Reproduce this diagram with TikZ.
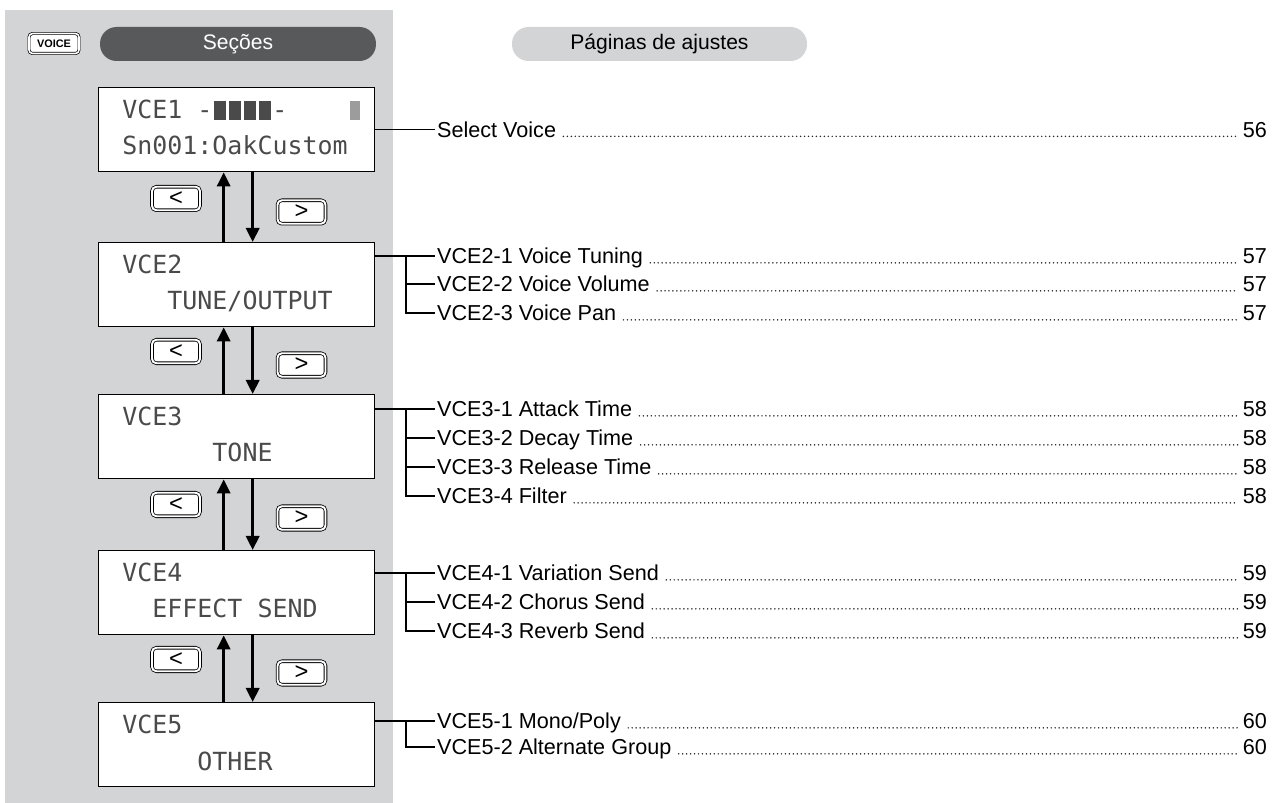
\documentclass[tikz,border=0pt]{standalone}
\usepackage{fontspec}
\setmainfont{Liberation Sans}
\newfontfamily\lcdfont{DejaVu Sans Mono}
\usetikzlibrary{arrows.meta}

\definecolor{panelgray}{HTML}{D3D4D6}
\definecolor{pilldark}{HTML}{58595B}
\definecolor{lcdink}{HTML}{4A4A4A}

% one inverted LCD cell
\newcommand\lcdblk{\makebox[0.6em]{\rule[-0.06em]{0.5em}{0.8em}}}
\newcommand\lcdcell{\makebox[0.6em]{\textcolor{lcdink!55}{\rule[-0.06em]{0.42em}{0.8em}}}}
\def\px{0.02cm}

\tikzset{
  pill/.style={rounded corners=0.33cm, minimum height=0.68cm, inner sep=0,
    font=\fontsize{12}{14}\selectfont},
  lcdbox/.style={draw, fill=white, line width=0.8pt, anchor=north west,
    minimum width=5.52cm, minimum height=1.68cm, inner sep=0},
  lcdtext/.style={anchor=base west, inner sep=0, text=lcdink,
    font=\lcdfont\fontsize{14.2}{16}\selectfont},
  navkey/.style={draw, double=white, double distance=1.1pt, line width=0.45pt,
    rounded corners=2.5pt, fill=white, minimum width=0.96cm,
    minimum height=0.47cm, inner sep=0, font=\fontsize{13.5}{13.5}\selectfont},
  navarrow/.style={line width=1.7pt, -{Triangle[length=8pt,width=7.5pt]}},
  branch/.style={line width=1.1pt},
  entry/.style={anchor=west, inner sep=1pt, text height=8.8pt, text depth=0pt,
    font=\fontsize{12.3}{14}\selectfont},
  pagenum/.style={entry, anchor=east},
  leader/.style={black!85, line width=0.95pt, dash pattern=on 0pt off 2.25pt, line cap=round}
}

\begin{document}
\begin{tikzpicture}[x=0.02cm, y=-0.02cm]
  \useasboundingbox (0,0) rectangle (1282,803);
  \fill[panelgray] (5,10) rectangle (393,803);

  % headers
  \node[draw, double=white, double distance=0.9pt, line width=0.4pt,
    rounded corners=2pt, fill=white, minimum width=1cm, minimum height=0.4cm,
    inner sep=0, font=\bfseries\fontsize{6.2}{6.5}\selectfont] (voice) at (54,43.5) {VOICE};
  \node[pill, fill=pilldark, text=white, minimum width=5.52cm] (secoes) at (238,44) {Seções};
  \node[pill, fill=panelgray, minimum width=5.9cm] (paginas) at (659.5,44) {Páginas de ajustes};

  % LCD screens
  \foreach \k/\t/\la/\lb in {
      1/87/{VCE1~-\lcdblk\lcdblk\lcdblk\lcdblk-~~~~\lcdcell}/{Sn001:OakCustom},
      2/242/VCE2/{~~~TUNE/OUTPUT},
      3/394/VCE3/{~~~~~~TONE},
      4/550/VCE4/{~~EFFECT~SEND},
      5/702/VCE5/{~~~~~OTHER}} {
    \node[lcdbox] (vce\k) at (98,\t) {};
    \node[lcdtext] (vce\k a) at (122,\t+32) {\la};
    \node[lcdtext] (vce\k b) at (122,\t+68) {\lb};
  }

  % < > keys and arrows between screens
  \foreach \k/\n/\b in {1/2/172, 2/3/325, 3/4/478, 4/5/633} {
    \node[navkey] (prev\k) at (176,\b+26.5) {<};
    \node[navkey] (next\k) at (301.5,\b+40) {>};
    \draw[navarrow] ([xshift=-13*\px]vce\n.north) -- ([xshift=-13*\px]vce\k.south);
    \draw[navarrow] ([xshift=16*\px]vce\k.south) -- ([xshift=16*\px]vce\n.north);
  }

  % setting pages
  \foreach \n/\y/\t/\p in {
      s/129.5/Select Voice/56,
      21/256/VCE2-1 Voice Tuning/57,
      22/284/VCE2-2 Voice Volume/57,
      23/313/VCE2-3 Voice Pan/57,
      31/409/VCE3-1 Attack Time/58,
      32/438/VCE3-2 Decay Time/58,
      33/467/VCE3-3 Release Time/58,
      34/496/VCE3-4 Filter/58,
      41/573/VCE4-1 Variation Send/59,
      42/602/VCE4-2 Chorus Send/59,
      43/631/VCE4-3 Reverb Send/59,
      51/721/{VCE5-1 Mono/Poly}/60,
      52/747/VCE5-2 Alternate Group/60} {
    \node[entry] (i\n) at (435,\y) {\t};
    \node[pagenum] (p\n) at (1269,\y) {\p};
    \draw[leader] ([xshift=3pt,yshift=0.5pt]i\n.base east) -- ([xshift=-1.5pt,yshift=0.5pt]p\n.base west);
  }

  % branches
  \draw[branch] (is.west -| vce1.east) -- (is.west);
  \coordinate (j) at (406,0);
  \draw[branch] (i21.west -| vce2.east) -- (i21.west);
  \draw[branch] (i21.west -| j) |- (i23.west);
  \draw[branch] (i22.west -| j) -- (i22.west);
  \draw[branch] (i31.west -| vce3.east) -- (i31.west);
  \draw[branch] (i31.west -| j) |- (i34.west);
  \draw[branch] (i32.west -| j) -- (i32.west);
  \draw[branch] (i33.west -| j) -- (i33.west);
  \draw[branch] (i41.west -| vce4.east) -- (i41.west);
  \draw[branch] (i41.west -| j) |- (i43.west);
  \draw[branch] (i42.west -| j) -- (i42.west);
  \draw[branch] (i51.west -| vce5.east) -- (i51.west);
  \draw[branch] (i51.west -| j) |- (i52.west);
\end{tikzpicture}
\end{document}
